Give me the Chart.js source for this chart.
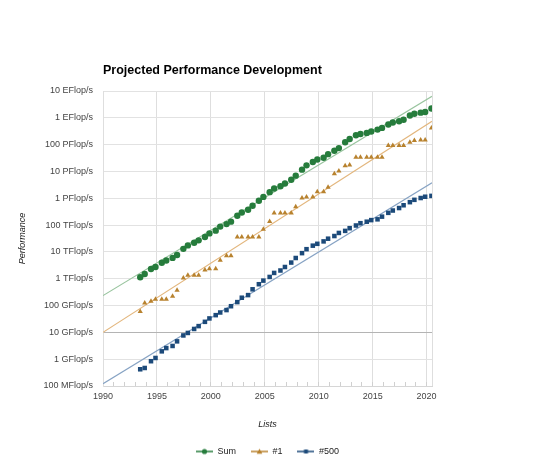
<!DOCTYPE html>
<html><head><meta charset="utf-8">
<script src="https://cdn.jsdelivr.net/npm/chart.js@4.4.0/dist/chart.umd.min.js"></script>
<style>html,body{margin:0;padding:0;background:#fff;}#wrap{width:535px;height:476px;}</style>
</head><body><div id="wrap"><canvas id="c" width="535" height="476"></canvas></div>
<script>
const chartTitle = 'Projected Performance Development';
const lists = ['1993-06','1993-11','1994-06','1994-11','1995-06','1995-11','1996-06','1996-11','1997-06','1997-11',
'1998-06','1998-11','1999-06','1999-11','2000-06','2000-11','2001-06','2001-11','2002-06','2002-11',
'2003-06','2003-11','2004-06','2004-11','2005-06','2005-11','2006-06','2006-11','2007-06','2007-11',
'2008-06','2008-11','2009-06','2009-11','2010-06','2010-11','2011-06','2011-11','2012-06','2012-11',
'2013-06','2013-11','2014-06','2014-11','2015-06','2015-11','2016-06','2016-11','2017-06','2017-11',
'2018-06','2018-11','2019-06','2019-11','2020-06'];
// values in GFlop/s
const sumGF = [1128,1493,2317,2732,3927,4784,5990,7680,13000,17500,
22000,27000,36000,49000,62000,88000,108800,134400,222000,293000,
374000,529000,813000,1127000,1690000,2300000,2790000,3540000,4920000,6970000,
11700000,16900000,22600000,27900000,32400000,44200000,58900000,74200000,123000000,162000000,
223000000,250000000,274000000,309000000,363000000,420000000,566000000,672000000,749000000,845000000,
1220000000,1410000000,1560000000,1650000000,2220000000];
const firstGF = [59.7,124,143.4,170,170,170,220.4,368.2,1068,1338,
1338,1338,2121,2379,2379,4938,7226,7226,35860,35860,
35860,35860,35860,70720,136800,280600,280600,280600,280600,478200,
1026000,1105000,1105000,1759000,1759000,2566000,8162000,10510000,16324751,17590000,
33862700,33862700,33862700,33862700,33862700,33862700,93014600,93014600,93014600,93014600,
122300000,143500000,148600000,148600000,415530000];
const lastGF = [0.42,0.47,0.84,1.11,1.96,2.59,3.11,4.62,7.67,9.51,
13.4,17.1,24.7,33.1,43.8,55.1,67.8,94.3,134.3,195.8,
245.1,403.4,624,850.6,1166,1646,2026,2737,4005,5929,
9000,12640,17090,20050,24670,31120,39090,50940,60820,76500,
96620,117800,133700,153400,164000,206400,286100,349300,432200,548700,
715600,874800,1022000,1142000,1228000];
const trendYears = [1990, 2020.5];
const sumTrend = [235, 6.3e9];
const firstTrend = [10, 7.5e8];
const lastTrend = [0.122, 3.8e6];
const yTickValues = [0.1,1,10,100,1e3,1e4,1e5,1e6,1e7,1e8,1e9,1e10];
const yTickLabels = ['100 MFlop/s','1 GFlop/s','10 GFlop/s','100 GFlop/s','1 TFlop/s','10 TFlop/s','100 TFlop/s','1 PFlop/s','10 PFlop/s','100 PFlop/s','1 EFlop/s','10 EFlop/s'];
const xTickYears = [1990,1995,2000,2005,2010,2015,2020];
const seriesNames = ['Sum','#1','#500'];

const FONT = 'Arial, "Liberation Sans", sans-serif';
const colors = {sum:'#267c3c', first:'#b8822e', last:'#1c4a7a'};
const trendColors = {sum:'#98c49e', first:'#e3b67d', last:'#87a3c4'};

function toX(s){ const [y,m] = s.split('-').map(Number); return y + (m - 0.6)/12; }
const xs = lists.map(toX);
const pts = arr => arr.map((v,i)=>({x:xs[i], y:v}));
const trend = arr => trendYears.map((t,i)=>({x:t, y:arr[i]}));

function legendIcon(color, style){
  const c = document.createElement('canvas'); c.width = 17; c.height = 8;
  const g = c.getContext('2d');
  g.strokeStyle = color; g.lineWidth = 1.5;
  g.beginPath(); g.moveTo(0,4); g.lineTo(17,4); g.stroke();
  g.fillStyle = color;
  if (style==='circle'){ g.beginPath(); g.arc(8.5,4,2.6,0,Math.PI*2); g.fill(); }
  else if (style==='triangle'){ g.beginPath(); g.moveTo(8.5,1.2); g.lineTo(11.3,6.2); g.lineTo(5.7,6.2); g.closePath(); g.fill(); }
  else { g.fillRect(6.5,2,4,4); }
  return c;
}

const titlePlugin = {
  id:'tt',
  afterDraw(chart){
    const ctx = chart.ctx; ctx.save();
    ctx.font = 'bold 12.5px ' + FONT; ctx.fillStyle = '#000'; ctx.textBaseline = 'alphabetic';
    ctx.fillText(chartTitle, chart.chartArea.left, 74);
    ctx.restore();
  }
};

const mk = (label, data, color, style, r) => ({type:'line', label, data, showLine:false, order:0,
  pointStyle:style, pointRadius:r, pointHoverRadius:r, pointBackgroundColor:color, pointBorderColor:color, pointBorderWidth:0, borderColor:color, backgroundColor:color});
const tl = (data, color) => ({type:'line', label:'trend', data, order:1, borderColor:color, borderWidth:1.2, pointRadius:0, fill:false, tension:0});

new Chart(document.getElementById('c'), {
  type:'line',
  data:{datasets:[
    mk(seriesNames[0], pts(sumGF), colors.sum, 'circle', 3.2),
    mk(seriesNames[1], pts(firstGF), colors.first, 'triangle', 3),
    mk(seriesNames[2], pts(lastGF), colors.last, 'rect', 3.2),
    tl(trend(sumTrend), trendColors.sum),
    tl(trend(firstTrend), trendColors.first),
    tl(trend(lastTrend), trendColors.last)
  ]},
  options:{
    responsive:false, animation:false, devicePixelRatio:1,
    layout:{padding:{left:14,right:14,top:91,bottom:10}},
    plugins:{
      tooltip:{enabled:false},
      legend:{position:'bottom', labels:{
        usePointStyle:true, pointStyleWidth:17, padding:15, color:'#222', font:{family:FONT,size:9},
        generateLabels(chart){
          const st=['circle','triangle','rect'], cl=[colors.sum,colors.first,colors.last];
          return seriesNames.map((n,i)=>({text:n, pointStyle:legendIcon(cl[i],st[i]), fillStyle:cl[i], strokeStyle:cl[i], lineWidth:0, hidden:false, datasetIndex:i, fontColor:'#222'}));
        }}}
    },
    scales:{
      x:{type:'linear', min:1990, max:2020.5,
        afterBuildTicks(s){ const t=[]; for(let y=1990;y<=2020;y++) t.push({value:y}); t.push({value:2020.5}); s.ticks=t; },
        afterFit(s){ s.height = 46; },
        ticks:{autoSkip:false, maxRotation:0, padding:9.5, color:'#444', font:{family:FONT,size:9},
          callback(v){ return xTickYears.includes(v) ? String(v) : ''; }},
        grid:{tickLength:-4, drawTicks:true,
          color(c){ const v=c.tick&&c.tick.value; return (xTickYears.includes(v)||v===2020.5)?'#dedede':'rgba(0,0,0,0)'; },
          tickColor(c){ const v=c.tick&&c.tick.value; return v===2020.5?'rgba(0,0,0,0)':'#d0d0d0'; }},
        border:{color:'#d6d6d6'},
        title:{display:true, text:'Lists', color:'#222', font:{family:FONT,size:9,style:'italic'}, padding:{top:0,bottom:2}}
      },
      y:{type:'logarithmic', min:0.1, max:1e10, position:'left',
        afterBuildTicks(s){ s.ticks = yTickValues.map(v=>({value:v})); },
        afterFit(s){ s.width = 89; },
        ticks:{padding:10, color:'#444', font:{family:FONT,size:9},
          callback(v){ const i=yTickValues.findIndex(t=>Math.abs(Math.log10(t)-Math.log10(v))<1e-6); return i>=0?yTickLabels[i]:''; }},
        grid:{drawTicks:false, color(c){ return (c.tick && Math.abs(c.tick.value-10)<1e-9) ? '#b4b4b4' : '#e2e2e2'; }},
        border:{color:'#dedede'},
        title:{display:true, text:'Performance', color:'#222', font:{family:FONT,size:9,style:'italic'}, padding:{top:3,bottom:0}}
      },
      y2:{type:'linear', position:'right', display:true,
        afterFit(s){ s.width = 89; },
        ticks:{display:false}, grid:{display:false, drawTicks:false}, border:{display:false}}
    }
  },
  plugins:[titlePlugin]
});
</script></body></html>
